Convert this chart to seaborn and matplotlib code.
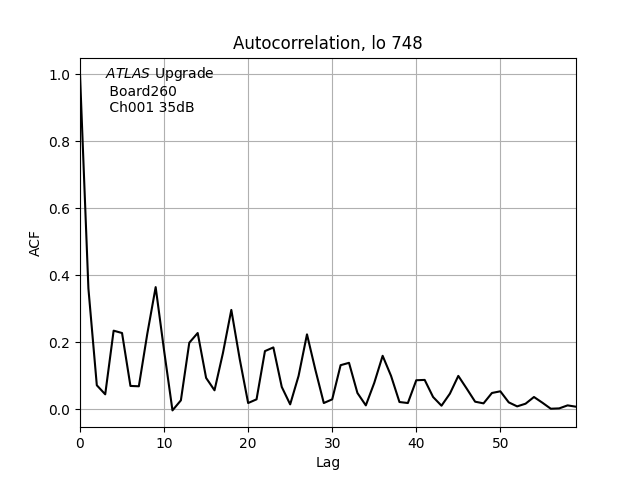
import matplotlib
matplotlib.use('Agg')
import matplotlib.pyplot as plt
import seaborn as sns
import pandas as pd

# ACF values, lags 0..59
lags = list(range(60))
acf = [1.000, 0.361, 0.072, 0.045, 0.235, 0.228, 0.070, 0.069, 0.225, 0.365,
       0.176, -0.003, 0.027, 0.199, 0.228, 0.094, 0.057, 0.168, 0.297, 0.150,
       0.019, 0.030, 0.174, 0.185, 0.067, 0.015, 0.100, 0.224, 0.118, 0.019,
       0.030, 0.132, 0.139, 0.049, 0.012, 0.079, 0.160, 0.100, 0.022, 0.019,
       0.087, 0.088, 0.037, 0.011, 0.047, 0.100, 0.062, 0.023, 0.018, 0.049,
       0.054, 0.021, 0.009, 0.017, 0.037, 0.020, 0.002, 0.003, 0.012, 0.008]

title = 'Autocorrelation, lo 748'
label = '$\\it{ATLAS}$ Upgrade\n Board260\n Ch001 35dB'

df = pd.DataFrame({'Lag': lags, 'ACF': acf})

fig, ax = plt.subplots(figsize=(6.4, 4.8), dpi=100)
sns.lineplot(data=df, x='Lag', y='ACF', color='black', linewidth=1.5, ax=ax)
ax.set_xlim(0, 59)
ax.grid(True)
ax.set_title(title)
ax.set_xlabel('Lag')
ax.set_ylabel('ACF')
ax.text(0.05, 0.98, label, transform=ax.transAxes, va='top', ha='left')

plt.savefig('out.png', dpi=100)
plt.close()
